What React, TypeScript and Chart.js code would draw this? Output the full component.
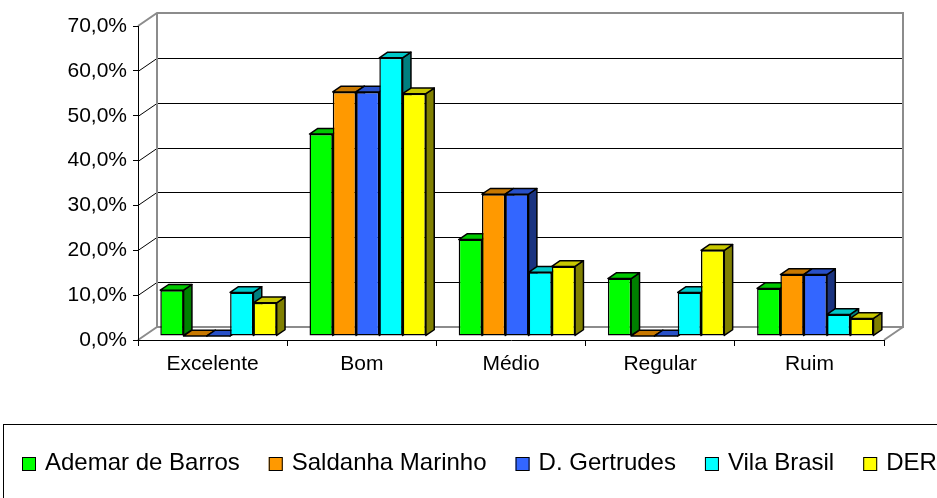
import React, { useEffect, useRef } from 'react';
import { Chart, registerables } from 'chart.js';

Chart.register(...registerables);

const categories = ['Excelente', 'Bom', 'Médio', 'Regular', 'Ruim'];
const seriesNames = ['Ademar de Barros', 'Saldanha Marinho', 'D. Gertrudes', 'Vila Brasil', 'DER'];
const ademarDeBarros = [10.2, 45.0, 21.5, 12.8, 10.6];
const saldanhaMarinho = [0, 54.4, 31.6, 0, 13.7];
const dGertrudes = [0, 54.4, 31.6, 0, 13.7];
const vilaBrasil = [9.7, 62.0, 14.2, 9.7, 4.8];
const der = [7.4, 54.0, 15.5, 19.1, 3.9];
const yTickLabels = ['0,0%', '10,0%', '20,0%', '30,0%', '40,0%', '50,0%', '60,0%', '70,0%'];

const frontColors = ['#00FF00', '#FF9900', '#3366FF', '#00FFFF', '#FFFF00'];
const topColors = ['#00C800', '#C87800', '#2850C8', '#00C8C8', '#C8C800'];
const sideColors = ['#008000', '#804C00', '#1A3380', '#008080', '#808000'];

const FONT = "'Liberation Sans', Arial, sans-serif";
const DEPTH_X = 19;
const DEPTH_Y = -13;
const BAR_START = 0.31;
const BAR_DEPTH = 0.44;

const wallPlugin = {
  id: 'walls3d',
  beforeDraw(chart: any) {
    const { ctx, chartArea: a, scales } = chart;
    const ys = scales.y;
    ctx.save();
    ctx.lineWidth = 1;
    ctx.strokeStyle = '#000';
    ys.ticks.forEach((t: any) => {
      if (t.value <= ys.min || t.value >= ys.max) return;
      const py = Math.round(ys.getPixelForValue(t.value)) + 0.5;
      ctx.beginPath();
      ctx.moveTo(a.left, py);
      ctx.lineTo(a.left + DEPTH_X, py + DEPTH_Y);
      ctx.lineTo(a.right + DEPTH_X, py + DEPTH_Y);
      ctx.stroke();
    });
    const bl = a.left + DEPTH_X;
    const br = a.right + DEPTH_X;
    const bt = a.top + DEPTH_Y;
    const bb = a.bottom + DEPTH_Y;
    ctx.strokeStyle = '#8c8c8c';
    ctx.lineWidth = 2;
    ctx.beginPath();
    ctx.moveTo(a.left, a.top);
    ctx.lineTo(bl, bt);
    ctx.lineTo(br, bt);
    ctx.lineTo(br, bb);
    ctx.lineTo(bl, bb);
    ctx.lineTo(bl, bt);
    ctx.moveTo(a.left, a.bottom);
    ctx.lineTo(bl, bb);
    ctx.moveTo(a.right, a.bottom);
    ctx.lineTo(br, bb);
    ctx.stroke();
    ctx.restore();
  },
};

const barsPlugin = {
  id: 'bars3d',
  beforeDatasetsDraw(chart: any) {
    const { ctx } = chart;
    const ox = DEPTH_X * BAR_START;
    const oy = DEPTH_Y * BAR_START;
    const dx = DEPTH_X * BAR_DEPTH;
    const dy = DEPTH_Y * BAR_DEPTH;
    ctx.save();
    ctx.translate(ox, oy);
    ctx.lineWidth = 1.5;
    ctx.strokeStyle = '#000';
    ctx.lineJoin = 'round';
    for (let j = 0; j < categories.length; j++) {
      chart.data.datasets.forEach((_ds: any, i: number) => {
        const el = chart.getDatasetMeta(i).data[j];
        if (!el) return;
        const { x, y, base, width } = el.getProps(['x', 'y', 'base', 'width'], true);
        const L = x - width / 2;
        const R = x + width / 2;
        ctx.beginPath();
        ctx.moveTo(R, y);
        ctx.lineTo(R + dx, y + dy);
        ctx.lineTo(R + dx, base + dy);
        ctx.lineTo(R, base);
        ctx.closePath();
        ctx.fillStyle = sideColors[i];
        ctx.fill();
        ctx.stroke();
        ctx.beginPath();
        ctx.moveTo(L, y);
        ctx.lineTo(L + dx, y + dy);
        ctx.lineTo(R + dx, y + dy);
        ctx.lineTo(R, y);
        ctx.closePath();
        ctx.fillStyle = topColors[i];
        ctx.fill();
        ctx.stroke();
      });
    }
    ctx.restore();
    ctx.save();
    ctx.translate(ox, oy);
  },
  afterDatasetsDraw(chart: any) {
    chart.ctx.restore();
  },
};

const legendPlugin = {
  id: 'legendBox',
  afterDraw(chart: any) {
    const ctx = chart.ctx;
    ctx.save();
    ctx.strokeStyle = '#000';
    ctx.lineWidth = 1;
    ctx.strokeRect(3.5, 424.5, 1000, 200);
    ctx.font = `24px ${FONT}`;
    ctx.textBaseline = 'alphabetic';
    ctx.textAlign = 'left';
    let x = 22;
    chart.data.datasets.forEach((ds: any) => {
      ctx.fillStyle = ds.backgroundColor;
      ctx.fillRect(x, 457, 14, 14);
      ctx.strokeStyle = '#000';
      ctx.strokeRect(x + 0.5, 457.5, 13, 13);
      ctx.fillStyle = '#000';
      ctx.fillText(ds.label, x + 23, 470);
      x += 23 + ctx.measureText(ds.label).width + 29;
    });
    ctx.restore();
  },
};

export default function App() {
  const ref = useRef<HTMLCanvasElement | null>(null);
  useEffect(() => {
    if (!ref.current) return;
    const values = [ademarDeBarros, saldanhaMarinho, dGertrudes, vilaBrasil, der];
    const chart = new Chart(ref.current, {
      type: 'bar',
      data: {
        labels: categories,
        datasets: seriesNames.map((name, i) => ({
          label: name,
          data: values[i],
          backgroundColor: frontColors[i],
          borderColor: '#000',
          borderWidth: 1.5,
          borderSkipped: false,
          categoryPercentage: 0.78,
          barPercentage: 1,
          clip: false as any,
        })),
      },
      options: {
        responsive: false,
        animation: false,
        devicePixelRatio: 1,
        layout: { padding: { top: 26, right: 53, bottom: 0, left: 0 } },
        plugins: { legend: { display: false }, tooltip: { enabled: false } },
        scales: {
          x: {
            offset: true,
            grid: { display: true, drawOnChartArea: false, offset: true, tickLength: 6, color: '#000', lineWidth: 1 },
            border: { display: true, color: '#000', width: 1 },
            ticks: { color: '#000', padding: 6, font: { family: FONT, size: 21 } },
            afterFit: (s: any) => { s.height = 158; },
          },
          y: {
            min: 0,
            max: 70,
            ticks: {
              stepSize: 10,
              color: '#000',
              padding: 6,
              font: { family: FONT, size: 21 },
              callback: (v: any) => yTickLabels[Math.round(Number(v) / 10)] ?? '',
            },
            grid: { display: true, drawOnChartArea: false, tickLength: 5, color: '#000', lineWidth: 1 },
            border: { display: true, color: '#000', width: 1 },
            afterFit: (s: any) => { s.width = 138; },
          },
        },
      },
      plugins: [wallPlugin, barsPlugin, legendPlugin],
    });
    return () => chart.destroy();
  }, []);
  return (
    <canvas
      ref={ref}
      width={937}
      height={498}
      style={{ position: 'absolute', left: 0, top: 0, width: 937, height: 498 }}
    />
  );
}
